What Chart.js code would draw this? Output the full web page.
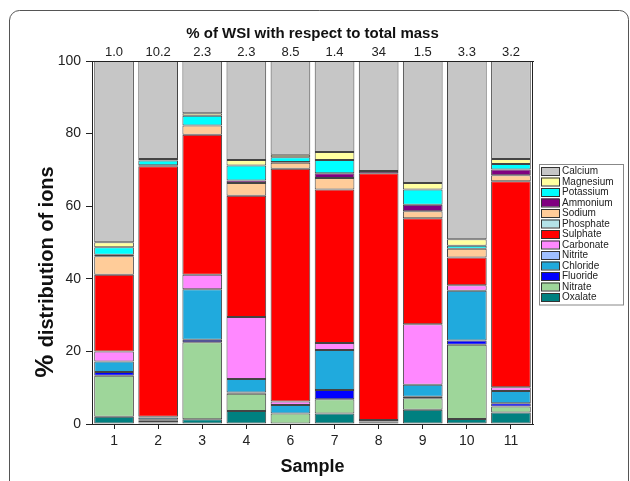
<!DOCTYPE html>
<html>
<head>
<meta charset="utf-8">
<script src="https://cdn.jsdelivr.net/npm/chart.js@4"></script>
<style>
  html, body { margin: 0; padding: 0; background: #fff; }
</style>
</head>
<body>
<canvas id="grafico" width="630" height="481"></canvas>
<script>
// amostras e % de WSI na massa total (eixo de cima)
const amostras = ['1', '2', '3', '4', '6', '7', '8', '9', '10', '11'];
const wsiMassa = ['1.0', '10.2', '2.3', '2.3', '8.5', '1.4', '34', '1.5', '3.3', '3.2'];
const yTicks = [0, 20, 40, 60, 80, 100];

// % de cada ion, de baixo para cima
const oxalate   = [2.0, 0.4, 1.3, 3.6, 0.0, 2.9, 0.3, 3.9, 1.4, 3.2];
const nitrate   = [11.3, 0.5, 21.2, 4.7, 2.9, 3.9, 0.2, 3.2, 20.4, 1.6];
const fluoride  = [1.0, 0.3, 0.7, 0.4, 0.0, 2.6, 0.2, 0.4, 1.2, 0.9];
const chloride  = [2.9, 0.6, 13.9, 3.7, 2.3, 11.0, 0.4, 3.3, 13.7, 3.4];
const nitrite   = [0, 0, 0, 0, 0, 0, 0, 0, 0, 0];
const carbonate = [2.8, 0.2, 4.0, 17.1, 1.0, 1.9, 0.0, 16.7, 1.5, 1.0];
const sulphate  = [21.1, 69.0, 38.6, 33.4, 64.1, 42.3, 68.0, 29.2, 7.7, 56.8];
const phosphate = [0, 0, 0, 0, 0, 0, 0, 0, 0, 0];
const sodium    = [5.1, 0.0, 2.5, 3.5, 1.7, 3.2, 0.0, 1.9, 2.4, 1.6];
const ammonium  = [0.4, 0.3, 0.0, 0.7, 0.2, 1.3, 0.6, 1.8, 0.0, 1.6];
const potassium = [2.1, 1.3, 2.7, 4.1, 1.3, 3.6, 0.0, 4.2, 0.8, 1.5];
const magnesium = [1.4, 0.4, 0.7, 1.5, 0.7, 2.2, 0.0, 1.8, 1.8, 1.4];
const calcium   = [49.9, 27.0, 14.4, 27.3, 25.8, 25.1, 30.3, 33.6, 49.1, 27.0];

const FONTE = '"Liberation Sans", Arial, sans-serif';

const series = [
  { nome: 'Oxalate',   dados: oxalate,   cor: '#008080' },
  { nome: 'Nitrate',   dados: nitrate,   cor: '#9ed69a' },
  { nome: 'Fluoride',  dados: fluoride,  cor: '#0000ff' },
  { nome: 'Chloride',  dados: chloride,  cor: '#20aadd' },
  { nome: 'Nitrite',   dados: nitrite,   cor: '#9fbfff' },
  { nome: 'Carbonate', dados: carbonate, cor: '#ff88ff' },
  { nome: 'Sulphate',  dados: sulphate,  cor: '#ff0000' },
  { nome: 'Phosphate', dados: phosphate, cor: '#b4e2e8' },
  { nome: 'Sodium',    dados: sodium,    cor: '#ffcc99' },
  { nome: 'Ammonium',  dados: ammonium,  cor: '#800080' },
  { nome: 'Potassium', dados: potassium, cor: '#00ffff' },
  { nome: 'Magnesium', dados: magnesium, cor: '#ffffa0' },
  { nome: 'Calcium',   dados: calcium,   cor: '#c6c6c6' }
];

// moldura, caixa do grafico, titulo do eixo y e legenda
const extras = {
  id: 'extras',
  beforeDraw(chart) {
    const ctx = chart.ctx;
    ctx.save();
    ctx.strokeStyle = '#555';
    ctx.lineWidth = 1;
    ctx.beginPath();
    ctx.moveTo(9.5, 490);
    ctx.lineTo(9.5, 20);
    ctx.arcTo(9.5, 10.5, 19.5, 10.5, 10);
    ctx.lineTo(619, 10.5);
    ctx.arcTo(628.5, 10.5, 628.5, 20, 9);
    ctx.lineTo(628.5, 490);
    ctx.stroke();
    ctx.restore();
  },
  afterDraw(chart) {
    const ctx = chart.ctx;
    const a = chart.chartArea;
    ctx.save();
    ctx.strokeStyle = '#222';
    ctx.lineWidth = 1;
    ctx.strokeRect(Math.round(a.left) + 0.5, Math.round(a.top) + 0.5, Math.round(a.right - a.left) - 1, Math.round(a.bottom - a.top));

    // titulo do eixo y
    ctx.translate(46, 272);
    ctx.rotate(-Math.PI / 2);
    ctx.fillStyle = '#111';
    ctx.textBaseline = 'middle';
    const f1 = 'bold 26px ' + FONTE, f2 = 'bold 20px ' + FONTE;
    ctx.font = f1;
    const w1 = ctx.measureText('% ').width;
    ctx.font = f2;
    const w2 = ctx.measureText('distribution of ions').width;
    let x = -(w1 + w2) / 2;
    ctx.font = f1;
    ctx.fillText('%', x, 0);
    ctx.font = f2;
    ctx.fillText('distribution of ions', x + w1, 1);
    ctx.restore();

    // legenda
    ctx.save();
    const lx = 539, ly = 164, lw = 84, passo = 10.5;
    ctx.strokeStyle = '#888';
    ctx.strokeRect(lx + 0.5, ly + 0.5, lw, 13 * passo + 4);
    ctx.font = '10px ' + FONTE;
    ctx.textBaseline = 'middle';
    const ordem = chart.data.datasets.slice().reverse();
    ordem.forEach((ds, i) => {
      const cy = ly + 7 + i * passo;
      ctx.fillStyle = ds.backgroundColor;
      ctx.fillRect(lx + 2, cy - 4, 18, 8);
      ctx.strokeStyle = '#333';
      ctx.strokeRect(lx + 2.5, cy - 3.5, 18, 8);
      ctx.fillStyle = '#222';
      ctx.fillText(ds.label, lx + 23, cy + 0.5);
    });
    ctx.restore();
  }
};

new Chart(document.getElementById('grafico'), {
  type: 'bar',
  data: {
    labels: amostras,
    datasets: series.map(s => ({
      label: s.nome,
      data: s.dados,
      backgroundColor: s.cor,
      borderColor: '#444',
      borderWidth: 1,
      borderSkipped: false,
      barPercentage: 0.9,
      categoryPercentage: 1.0
    }))
  },
  options: {
    responsive: false,
    animation: false,
    devicePixelRatio: 1,
    layout: { padding: { left: 0, right: 97, top: 0, bottom: 0 } },
    plugins: {
      legend: { display: false },
      tooltip: { enabled: false }
    },
    scales: {
      x: {
        stacked: true,
        offset: true,
        grid: { display: true, drawOnChartArea: false, drawTicks: true, tickLength: 5, color: '#222', offset: false },
        border: { color: '#222' },
        ticks: { font: { family: FONTE, size: 14 }, color: '#222', padding: 4 },
        title: { display: true, text: 'Sample', color: '#111', font: { family: FONTE, size: 18, weight: 'bold' }, padding: { top: 0, bottom: 3 } },
        afterFit: s => { s.height = 57; }
      },
      x2: {
        type: 'category',
        labels: wsiMassa,
        position: 'top',
        offset: true,
        grid: { display: false, drawTicks: false },
        border: { display: true, color: '#222' },
        ticks: { font: { family: FONTE, size: 13 }, color: '#222', padding: 1 },
        title: { display: true, text: '% of WSI with respect to total mass', color: '#111', font: { family: FONTE, size: 15, weight: 'bold' }, padding: { top: 25, bottom: 0 } },
        afterFit: s => { s.height = 61; }
      },
      y: {
        stacked: true,
        min: 0,
        max: 100,
        afterBuildTicks: s => { s.ticks = yTicks.map(v => ({ value: v })); },
        grid: { display: true, drawOnChartArea: false, tickLength: 6, color: '#222' },
        border: { color: '#222' },
        ticks: { font: { family: FONTE, size: 14 }, color: '#222', padding: 5 },
        afterFit: s => { s.width = 92; }
      }
    }
  },
  plugins: [extras]
});
</script>
</body>
</html>
